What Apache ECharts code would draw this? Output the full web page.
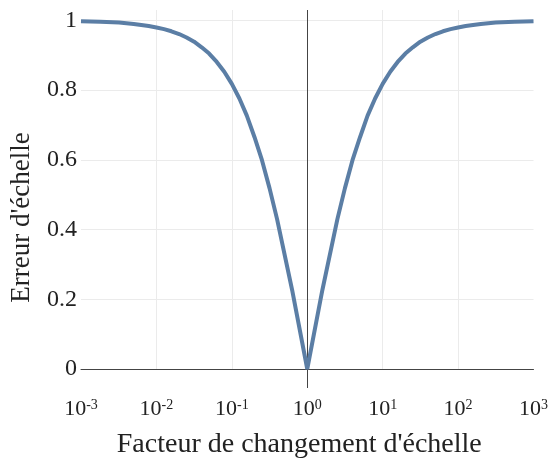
<!DOCTYPE html>
<html>
<head>
<meta charset="utf-8">
<script src="https://cdn.jsdelivr.net/npm/echarts@6/dist/echarts.min.js"></script>
<style>
html,body{margin:0;padding:0;background:#fff;}
#chart{width:551px;height:464px;}
</style>
</head>
<body>
<div id="chart"></div>
<script>
// Scale factor (x) and scale error (y)
var scaleFactors = [0.001, 0.0018, 0.0032, 0.004, 0.005, 0.0063, 0.0079, 0.01, 0.0126, 0.0158, 0.02, 0.0251, 0.0316, 0.0398, 0.05,
                    0.0631, 0.0794, 0.1, 0.126, 0.158, 0.2, 0.251, 0.316, 0.398, 0.631, 1,
                    1.585, 2.51, 3.16, 3.98, 5.01, 6.31, 7.94, 10, 12.6, 15.8, 20, 25.1, 31.6, 39.8, 50.1, 63.1, 79.4,
                    100, 126, 158, 200, 251, 316, 562, 1000];
var scaleErrors  = [0.998, 0.996, 0.994, 0.992, 0.990, 0.987, 0.984, 0.980, 0.975, 0.969, 0.961, 0.951, 0.939, 0.923, 0.905,
                    0.881, 0.853, 0.818, 0.776, 0.727, 0.665, 0.599, 0.519, 0.430, 0.226, 0,
                    0.226, 0.430, 0.519, 0.599, 0.665, 0.727, 0.776, 0.818, 0.853, 0.881, 0.905, 0.923, 0.939, 0.951, 0.961, 0.969, 0.975,
                    0.980, 0.984, 0.987, 0.990, 0.992, 0.994, 0.996, 0.998];
var xTitle = "Facteur de changement d'échelle";
var yTitle = "Erreur d'échelle";
var yTicks = [0, 0.2, 0.4, 0.6, 0.8, 1];

var points = scaleFactors.map(function (x, i) { return [x, scaleErrors[i]]; });

var chart = echarts.init(document.getElementById('chart'), null, {renderer: 'canvas'});
var serif = '"Liberation Serif", "DejaVu Serif", serif';
chart.setOption({
  animation: false,
  backgroundColor: '#ffffff',
  grid: {left: 81, right: 16, top: 10, bottom: 95},
  xAxis: [{
    type: 'log',
    logBase: 10,
    min: 0.001,
    max: 1000,
    name: xTitle,
    nameLocation: 'middle',
    nameGap: 62,
    nameTextStyle: {fontFamily: serif, fontSize: 28, color: '#222', padding: [0, 16, 0, 0]},
    axisLine: {show: true, lineStyle: {color: '#444', width: 1}},
    axisTick: {show: false},
    axisLabel: {
      margin: 29,
      fontFamily: serif,
      color: '#222',
      formatter: function (v) {
        var e = Math.round(Math.log(v) / Math.LN10);
        return '{b|10}{s|' + e + '}';
      },
      rich: {
        b: {fontFamily: serif, fontSize: 22, color: '#222', lineHeight: 22},
        s: {fontFamily: serif, fontSize: 14, color: '#222', verticalAlign: 'top', lineHeight: 14, padding: [0, 0, 6, 0]}
      }
    },
    splitLine: {show: true, showMinLine: false, showMaxLine: false, lineStyle: {color: '#ebebeb', width: 1}}
  }, {
    type: 'log',
    logBase: 10,
    min: 0.001,
    max: 1000,
    position: 'bottom',
    axisLine: {show: false},
    axisLabel: {show: false},
    splitLine: {show: false},
    axisTick: {show: true, customValues: [1], length: 19, lineStyle: {color: '#444', width: 1}}
  }],
  yAxis: {
    type: 'value',
    min: 0,
    max: 1.03,
    interval: 0.2,
    name: yTitle,
    nameLocation: 'middle',
    nameGap: 46,
    nameRotate: 90,
    nameTextStyle: {fontFamily: serif, fontSize: 27, color: '#222', padding: [0, 56, 0, 0]},
    axisLine: {show: false},
    axisTick: {show: false},
    axisLabel: {
      margin: 4,
      fontFamily: serif,
      fontSize: 24,
      color: '#222',
      showMaxLabel: false,
      formatter: function (v) { var r = Math.round(v * 10) / 10; return (yTicks.indexOf(r) >= 0 && Math.abs(v - r) < 1e-6) ? String(r) : ''; }
    },
    splitLine: {show: true, showMinLine: false, showMaxLine: false, lineStyle: {color: '#ebebeb', width: 1}}
  },
  series: [{
    type: 'line',
    data: points,
    showSymbol: false,
    symbol: 'none',
    smooth: false,
    lineStyle: {color: '#5b7ea5', width: 4},
    z: 3,
    markLine: {
      silent: true,
      symbol: ['none', 'none'],
      label: {show: false},
      lineStyle: {color: '#444', width: 1, type: 'solid'},
      data: [{xAxis: 1}],
      z: 2
    }
  }]
});
</script>
</body>
</html>
